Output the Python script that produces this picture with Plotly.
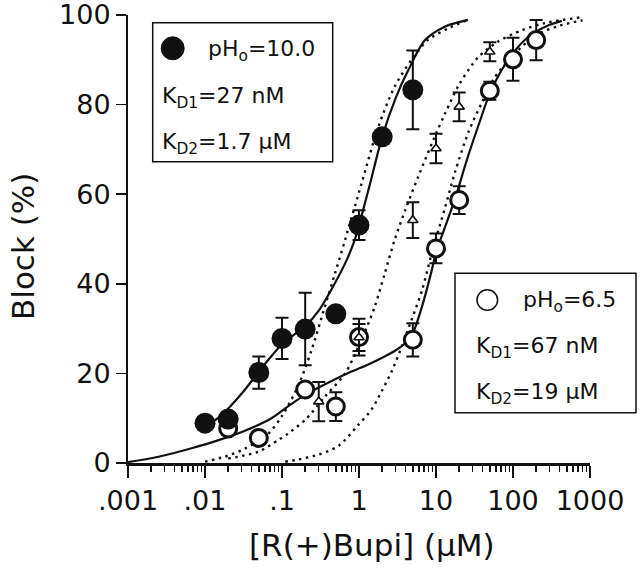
import plotly.graph_objects as go

# ---------------- data ----------------
conc_ph10 = [0.01, 0.02, 0.05, 0.1, 0.2, 0.5, 1, 2, 5]
block_ph10 = [8.9, 9.8, 20.2, 27.8, 29.9, 33.3, 53.1, 72.8, 83.3]
err_ph10 = [0, 0, 3.6, 4.6, 8.1, 0, 3.3, 0, 8.8]

conc_ph65 = [0.02, 0.05, 0.2, 0.5, 1, 5, 10, 20, 50, 100, 200]
block_ph65 = [7.7, 5.6, 16.4, 12.6, 28.1, 27.5, 47.9, 58.7, 83.1, 90.1, 94.4]
err_ph65 = [0, 0, 0, 3.2, 4.1, 3.7, 3.3, 3.1, 2.0, 4.8, 4.5]

conc_tri = [0.3, 1, 5, 10, 20, 50]
block_tri = [13.7, 28.0, 54.2, 70.2, 79.5, 91.8]
err_tri = [4.4, 3.0, 4.0, 3.3, 3.2, 2.1]

# two-site fit curves (solid)
fit10_x = [0.009, 0.0164, 0.03, 0.05, 0.07, 0.1, 0.14, 0.2, 0.3, 0.5, 0.7, 0.88, 1.0, 1.4, 2.0, 3.0, 4.37, 7.2, 13, 26]
fit10_y = [7.5, 10.7, 15.5, 20.4, 23.5, 26.5, 28.5, 30.5, 34.0, 40.5, 45.5, 49.8, 53.0, 62.5, 72.8, 81.5, 87.7, 94.4, 97.4, 98.9]

fit65_x = [0.001, 0.0025, 0.0067, 0.015, 0.033, 0.073, 0.126, 0.2, 0.44, 0.8, 1.32, 2.0, 2.9, 4.0, 5.0, 6.6, 8.8, 10, 13, 17.7, 25, 35, 50, 70, 100, 160, 300, 430]
fit65_y = [0.2, 1.4, 3.3, 5.1, 7.2, 10.0, 12.9, 15.2, 18.3, 20.4, 22.0, 23.5, 25.0, 26.8, 29.0, 35.0, 43.0, 47.0, 52.5, 59.0, 67.5, 75.0, 82.5, 87.5, 91.5, 95.2, 97.8, 98.7]

# single-site fit curves (dotted)
dot10_x = [0.01, 0.018, 0.033, 0.066, 0.1, 0.16, 0.24, 0.36, 0.49, 0.66, 1.08, 1.78, 2.9, 4.8, 7.8, 14.3, 26]
dot10_y = [0.3, 1.4, 3.2, 6.5, 10.5, 17.0, 25.0, 34.9, 42.4, 49.8, 62.4, 75.0, 84.0, 90.0, 94.4, 97.0, 98.9]

dotmid_x = [0.02, 0.049, 0.089, 0.12, 0.2, 0.36, 0.66, 1.08, 1.6, 2.16, 2.9, 4.0, 5.9, 10, 13.1, 20, 35, 63, 130, 260, 770]
dotmid_y = [1.0, 2.5, 5.1, 6.6, 9.6, 14.8, 20.0, 27.5, 34.9, 42.3, 49.8, 56.5, 64.0, 73.5, 78.0, 84.5, 90.5, 94.0, 96.6, 98.2, 99.5]

dot65_x = [0.11, 0.163, 0.3, 0.54, 0.98, 1.46, 1.97, 2.66, 3.6, 4.8, 6.6, 8.8, 13.1, 17.7, 26.6, 39.6, 57.6, 100, 200, 400, 800]
dot65_y = [0.3, 0.8, 1.9, 3.8, 8.5, 12.0, 16.0, 20.5, 26.0, 31.9, 38.6, 46.8, 57.0, 65.0, 74.0, 80.5, 86.0, 91.0, 95.5, 97.6, 98.8]

x_tickvals = [0.001, 0.01, 0.1, 1, 10, 100, 1000]
x_ticktext = [".001", ".01", ".1", "1", "10", "100", "1000"]
y_tickvals = [0, 20, 40, 60, 80, 100]

# ---------------- layout geometry (page pixels; body margin removed) ----------------
W, H = 640, 577
PLOT_L, PLOT_R, PLOT_T, PLOT_B = 128, 590, 15, 463   # plot area in page pixels
L, T = PLOT_L, PLOT_T
R = W - PLOT_R
B = H - PLOT_B
PW, PH = PLOT_R - PLOT_L, PLOT_B - PLOT_T


def px(xp):
    return (xp - PLOT_L) / PW


def py(yp):
    return (PLOT_B - yp) / PH


FONT = "DejaVu Sans"
BLACK = "#111111"

fig = go.Figure()

dot_line = dict(color=BLACK, width=2.4, dash="2.5px,4.5px")
for xs, ys in [(dot10_x, dot10_y), (dotmid_x, dotmid_y), (dot65_x, dot65_y)]:
    fig.add_trace(go.Scatter(x=xs, y=ys, mode="lines", line=dict(shape="spline", smoothing=0.8, **dot_line),
                             hoverinfo="skip", showlegend=False))

for xs, ys in [(fit10_x, fit10_y), (fit65_x, fit65_y)]:
    fig.add_trace(go.Scatter(x=xs, y=ys, mode="lines",
                             line=dict(color=BLACK, width=2.2, shape="spline", smoothing=0.8),
                             hoverinfo="skip", showlegend=False))

eb = dict(type="data", color=BLACK, thickness=2, width=6.5)

fig.add_trace(go.Scatter(x=conc_ph65, y=block_ph65, mode="markers",
                         error_y=dict(array=err_ph65, **eb),
                         marker=dict(symbol="circle", size=17, color="white", line=dict(color=BLACK, width=3)),
                         cliponaxis=False, showlegend=False))
fig.add_trace(go.Scatter(x=conc_tri, y=block_tri, mode="markers",
                         error_y=dict(array=err_tri, **eb),
                         marker=dict(symbol="triangle-up", size=9, color="white", line=dict(color=BLACK, width=1.6)),
                         cliponaxis=False, showlegend=False))
fig.add_trace(go.Scatter(x=conc_ph10, y=block_ph10, mode="markers",
                         error_y=dict(array=err_ph10, **eb),
                         marker=dict(symbol="circle", size=21, color=BLACK, line=dict(color=BLACK, width=0)),
                         cliponaxis=False, showlegend=False))

minor_vals = [k * 10.0 ** e for e in range(-3, 3) for k in range(2, 10)]

fig.update_xaxes(type="log", range=[-3, 3], showline=True, linecolor=BLACK, linewidth=2.5,
                 ticks="outside", ticklen=12, tickwidth=1.6, tickcolor=BLACK,
                 tickmode="array", tickvals=x_tickvals, ticktext=x_ticktext,
                 minor=dict(tickmode="array", tickvals=minor_vals, ticks="outside", ticklen=6,
                            tickwidth=1.4, tickcolor=BLACK, showgrid=False),
                 showgrid=False, zeroline=False, ticklabeloverflow="allow",
                 tickfont=dict(family=FONT, size=27, color=BLACK))
fig.update_yaxes(range=[0, 100], showline=True, linecolor=BLACK, linewidth=2,
                 ticks="outside", ticklen=10, tickwidth=1.6, tickcolor=BLACK,
                 tickmode="array", tickvals=y_tickvals, ticklabeloverflow="allow",
                 showgrid=False, zeroline=False,
                 tickfont=dict(family=FONT, size=27, color=BLACK))

shapes = [
    dict(type="rect", xref="paper", yref="paper", x0=px(152.7), x1=px(332.7), y0=py(161.7), y1=py(22.7),
         line=dict(color=BLACK, width=1.5), fillcolor="white", layer="above"),
    dict(type="rect", xref="paper", yref="paper", x0=px(455), x1=px(636), y0=py(412.7), y1=py(273.3),
         line=dict(color=BLACK, width=1.5), fillcolor="white", layer="above"),
    dict(type="circle", xref="paper", yref="paper", x0=px(161.2), x1=px(184.2), y0=py(59.8), y1=py(36.8),
         line=dict(color=BLACK, width=1), fillcolor=BLACK, layer="above"),
    dict(type="circle", xref="paper", yref="paper", x0=px(477), x1=px(497.6), y0=py(310.3), y1=py(289.7),
         line=dict(color=BLACK, width=1.5), fillcolor="white", layer="above"),
]

tf = dict(family=FONT, size=22, color=BLACK)
ann = []
for text, xl, yc in [("pH<sub>o</sub>=10.0", 206, 50), ("K<sub>D1</sub>=27 nM", 160, 97),
                     ("K<sub>D2</sub>=1.7 µM", 160, 143), ("pH<sub>o</sub>=6.5", 521, 301),
                     ("K<sub>D1</sub>=67 nM", 474, 347), ("K<sub>D2</sub>=19 µM", 474, 393)]:
    ann.append(dict(text=text, xref="paper", yref="paper", x=px(xl), y=py(yc), xanchor="left",
                    yanchor="middle", showarrow=False, font=tf))

ann.append(dict(text="[R(+)Bupi] (µM)", xref="paper", yref="paper", x=px(372), y=py(545),
                xanchor="center", yanchor="middle", showarrow=False,
                font=dict(family=FONT, size=31, color=BLACK)))
ann.append(dict(text="Block (%)", xref="paper", yref="paper", x=px(23), y=py(247), textangle=-90,
                xanchor="center", yanchor="middle", showarrow=False,
                font=dict(family=FONT, size=31, color=BLACK)))

fig.update_layout(width=W, height=H, margin=dict(l=L, r=R, t=T, b=B, autoexpand=False),
                  paper_bgcolor="white", plot_bgcolor="white", shapes=shapes, annotations=ann,
                  showlegend=False)

fig.write_html("out.html", config={"displayModeBar": False, "staticPlot": True},
               post_script="document.body.style.margin='0';")
